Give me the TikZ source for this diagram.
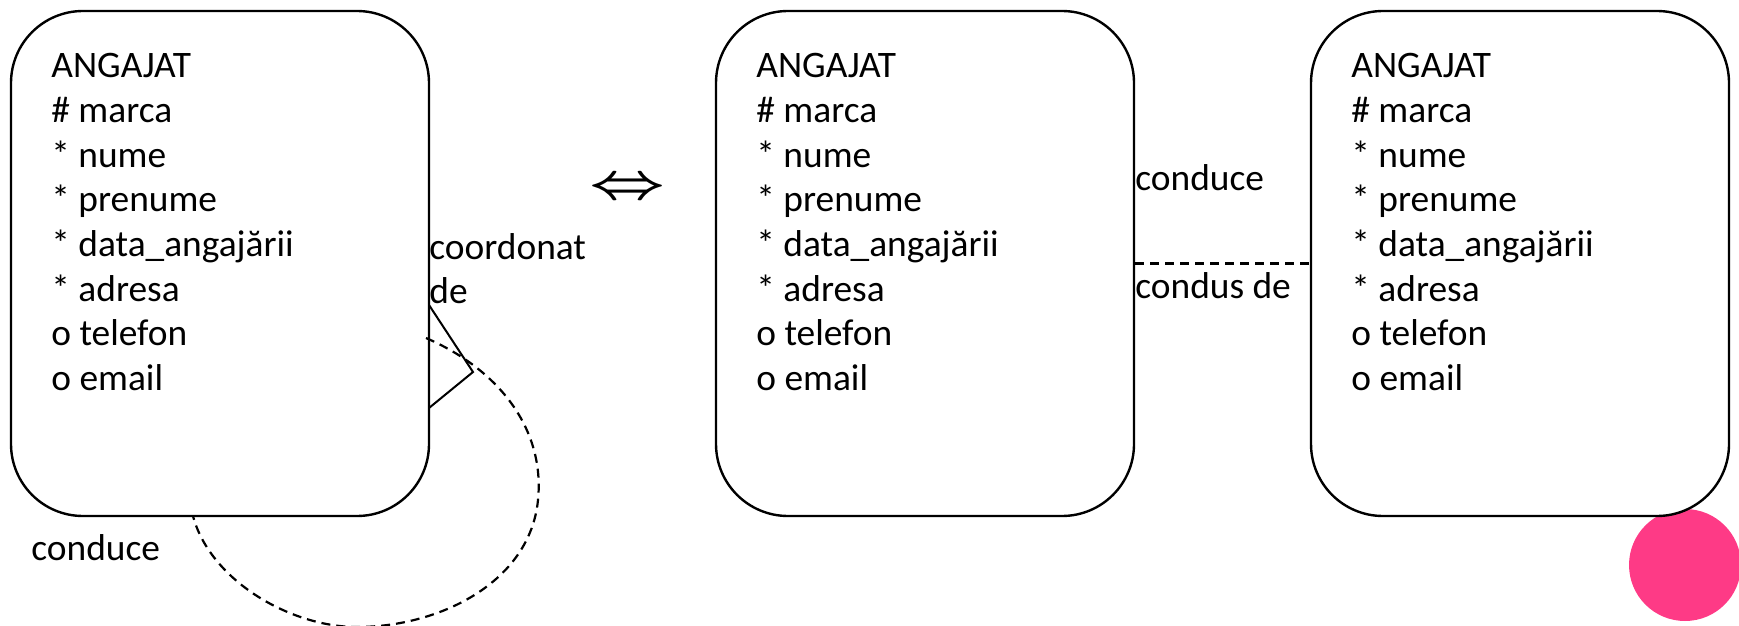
\documentclass[tikz,border=0pt]{standalone}
\usepackage{fontspec}
\setmainfont{Carlito}
\usetikzlibrary{calc}
\definecolor{pinkdot}{RGB}{254,58,134}
\tikzset{
  entity/.style={draw, line width=1.2pt, rounded corners=36pt, minimum width=209pt,
    minimum height=252.5pt, inner sep=0pt, fill=white},
  attrs/.style={anchor=north west, align=left, inner sep=0pt,
    font=\fontsize{18.7}{22.35}\selectfont},
  lbl/.style={anchor=base west, align=left, inner sep=0pt,
    font=\fontsize{18.7}{22}\selectfont},
  rel/.style={line width=1.1pt, dash pattern=on 4.5pt off 3pt},
  foot/.style={line width=1pt},
}
\begin{document}
\begin{tikzpicture}[x=0.5pt,y=-0.5pt]
\useasboundingbox (0,0) rectangle (1739,626);
\node[circle, fill=pinkdot, minimum size=56pt, inner sep=0pt] (dot) at (1685,565) {};
\node[entity] (b1) at (220,263.5) {};
\node[entity] (b2) at (925,263.5) {};
\node[entity] (b3) at (1520,263.5) {};
\node[attrs] (t1) at (51,53) {ANGAJAT\\\# marca\\* nume\\* prenume\\* data\_angajării\\* adresa\\o telefon\\o email};
\node[attrs] (t2) at (756,53) {ANGAJAT\\\# marca\\* nume\\* prenume\\* data\_angajării\\* adresa\\o telefon\\o email};
\node[attrs] (t3) at (1351,53) {ANGAJAT\\\# marca\\* nume\\* prenume\\* data\_angajării\\* adresa\\o telefon\\o email};
% self relationship
\coordinate (cf1) at (429,305);
\coordinate (cfp) at (473,372);
\coordinate (cf2) at (429,408);
\draw[foot] (cf1) -- (cfp) -- (cf2);
\coordinate (s1) at (426,338);
\coordinate (s2) at (193,516);
\draw[rel] (s1) .. controls (500,370) and (545,430) .. (538,500)
  .. controls (530,582) and (440,627) .. (357,627)
  .. controls (290,627) and (210,580) .. (s2);
\node[lbl] (lc) at (429,303) {coordonat\\de};
\node[lbl] (lcd) at (31,560) {conduce};
% equivalence
\node[inner sep=0pt, font=\fontsize{35}{35}\selectfont\boldmath] (eq) at (628,189) {\scalebox{1.33}[1]{$\Leftrightarrow$}};
% binary relationship
\draw[rel] (b2.east) -- (b3.west);
\node[lbl] (l1) at (1135,190) {conduce};
\node[lbl] (l2) at (1135,298) {condus de};
\end{tikzpicture}
\end{document}
